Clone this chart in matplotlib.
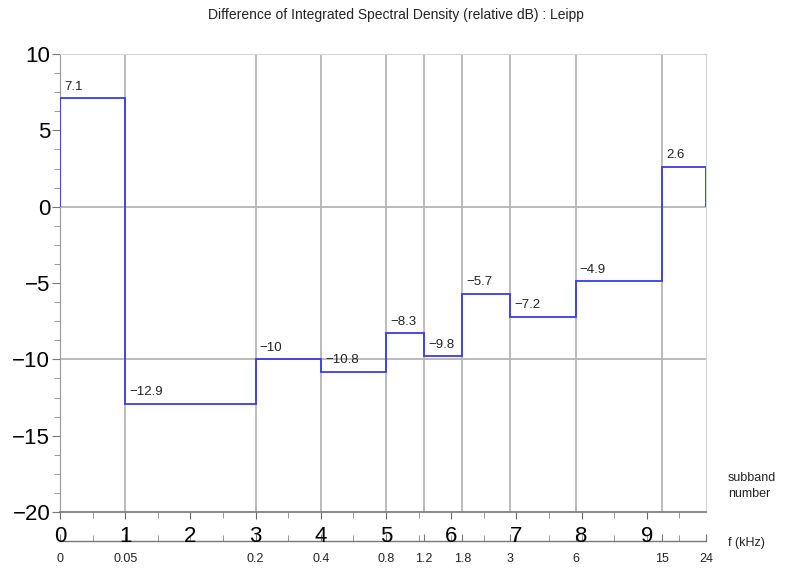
import numpy as np
import matplotlib
matplotlib.use('Agg')
import matplotlib.pyplot as plt

plt.rcParams['font.family'] = ['Liberation Sans', 'DejaVu Sans']

# subband edges (subband-number axis) and their frequencies
edges = [0, 1, 3, 4, 5, 5.585, 6.17, 6.907, 7.907, 9.23, 9.907]
freq_labels = ['0', '0.05', '0.2', '0.4', '0.8', '1.2', '1.8', '3', '6', '15', '24']
# relative dB per subband
values = [7.1, -12.9, -10, -10.8, -8.3, -9.8, -5.7, -7.2, -4.9, 2.6]
value_labels = ['7.1', '\u221212.9', '\u221210', '\u221210.8', '\u22128.3',
                '\u22129.8', '\u22125.7', '\u22127.2', '\u22124.9', '2.6']
subband_ticks = list(range(10))

fig = plt.figure(figsize=(7.91, 5.70), dpi=100)
ax = fig.add_axes([60 / 791, 1 - 512 / 570, (706 - 60) / 791, (512 - 54) / 570])

# grid-like lines
for e in edges[1:-1]:
    ax.axvline(e, color='#a8a8a8', lw=1.1, zorder=1)
for y in [0, -10]:
    ax.axhline(y, color='#b4b4b4', lw=1.3, zorder=1)

ax.stairs(values, edges, baseline=0, color='#3a3ae6', lw=1.3, zorder=3)

for x0, v, lab in zip(edges[:-1], values, value_labels):
    ax.annotate(lab, (x0, v), xytext=(3, 4), textcoords='offset points',
                fontsize=9.5, color='#222222', ha='left', va='bottom')

ax.set_xlim(edges[0], edges[-1])
ax.set_ylim(-20, 10)

ax.set_yticks([10, 5, 0, -5, -10, -15, -20])
ax.set_yticklabels(['10', '5', '0', '\u22125', '\u221210', '\u221215', '\u221220'])
ax.set_yticks(np.arange(-20, 10.01, 1.25), minor=True)
ax.tick_params(axis='y', which='major', labelsize=16, length=6, color='#777777', pad=1)
ax.tick_params(axis='y', which='minor', length=4, color='#888888')

ax.set_xticks(subband_ticks)
ax.set_xticks(np.arange(0.5, 9.9, 1), minor=True)
ax.tick_params(axis='x', which='major', labelsize=16, length=5, color='#666666', pad=5)
ax.tick_params(axis='x', which='minor', length=4, color='#888888')

for s in ['top', 'right']:
    ax.spines[s].set_color('#d4d4d4')
ax.spines['left'].set_color('#999999')
ax.spines['bottom'].set_color('#777777')
ax.spines['bottom'].set_linewidth(1.2)

# frequency axis below
sec = ax.secondary_xaxis(-0.063)
sec.set_xticks(edges, labels=freq_labels)
sec.set_xticks(np.arange(0.5, 9.9, 0.5), minor=True)
sec.tick_params(axis='x', which='major', direction='in', length=5, labelsize=9,
                color='#777777', pad=8.5, labelcolor='#222222')
sec.tick_params(axis='x', which='minor', direction='in', length=4, color='#888888')
sec.spines['bottom'].set_color('#777777')
sec.spines['bottom'].set_linewidth(1.0)

fig.text(728 / 791, 1 - 486 / 570, 'subband\nnumber', fontsize=9, ha='left',
         va='center', color='#222222', linespacing=1.45)
fig.text(728 / 791, 1 - 543 / 570, 'f (kHz)', fontsize=9, ha='left',
         va='center', color='#222222')

fig.suptitle('Difference of Integrated Spectral Density (relative dB) : Leipp',
             x=0.5, y=1 - 15 / 570, va='center', fontsize=10, color='#222222')

fig.savefig('out.png', dpi=100)
